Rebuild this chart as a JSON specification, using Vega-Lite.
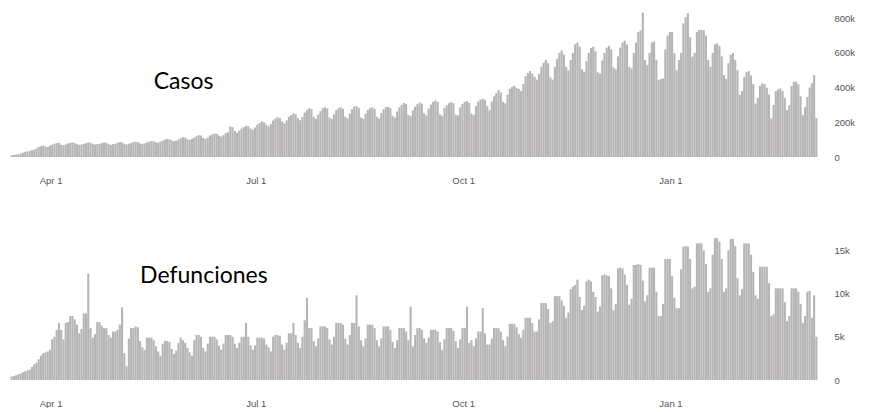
{
"$schema": "https://vega.github.io/schema/vega-lite/v6.json",
"background": "white",
"padding": {"left": 10, "top": 8, "right": 0, "bottom": 0},
"spacing": 46,
"config": {
  "view": {"stroke": null},
  "axis": {"grid": false, "domain": false, "ticks": false, "labelColor": "#555555", "labelFont": "Liberation Sans", "labelFontSize": 9.5, "title": null, "labelOverlap": false}
},
"data": {"values": [
{"date":"2020-03-14","cases":10000,"deaths":400},
{"date":"2020-03-15","cases":12000,"deaths":450},{"date":"2020-03-16","cases":14000,"deaths":550},{"date":"2020-03-17","cases":16000,"deaths":650},{"date":"2020-03-18","cases":20000,"deaths":750},{"date":"2020-03-19","cases":25000,"deaths":900},{"date":"2020-03-20","cases":30000,"deaths":1000},{"date":"2020-03-21","cases":32000,"deaths":1100},
{"date":"2020-03-22","cases":34000,"deaths":1200},{"date":"2020-03-23","cases":40000,"deaths":1500},{"date":"2020-03-24","cases":42000,"deaths":1800},{"date":"2020-03-25","cases":50000,"deaths":2000},{"date":"2020-03-26","cases":58000,"deaths":2400},{"date":"2020-03-27","cases":62000,"deaths":2800},{"date":"2020-03-28","cases":66000,"deaths":3100},
{"date":"2020-03-29","cases":60000,"deaths":3200},{"date":"2020-03-30","cases":58000,"deaths":3300},{"date":"2020-03-31","cases":66000,"deaths":3500},{"date":"2020-04-01","cases":72000,"deaths":4700},{"date":"2020-04-02","cases":76000,"deaths":5000},{"date":"2020-04-03","cases":80000,"deaths":5800},{"date":"2020-04-04","cases":82000,"deaths":6600},
{"date":"2020-04-05","cases":70000,"deaths":5800},{"date":"2020-04-06","cases":68000,"deaths":4700},{"date":"2020-04-07","cases":72000,"deaths":6600},{"date":"2020-04-08","cases":78000,"deaths":6700},{"date":"2020-04-09","cases":82000,"deaths":7400},{"date":"2020-04-10","cases":84000,"deaths":7400},{"date":"2020-04-11","cases":80000,"deaths":7000},
{"date":"2020-04-12","cases":74000,"deaths":6400},{"date":"2020-04-13","cases":70000,"deaths":5400},{"date":"2020-04-14","cases":72000,"deaths":5900},{"date":"2020-04-15","cases":76000,"deaths":7700},{"date":"2020-04-16","cases":80000,"deaths":7700},{"date":"2020-04-17","cases":84000,"deaths":12300},{"date":"2020-04-18","cases":82000,"deaths":6000},
{"date":"2020-04-19","cases":76000,"deaths":4900},{"date":"2020-04-20","cases":72000,"deaths":5300},{"date":"2020-04-21","cases":74000,"deaths":6700},{"date":"2020-04-22","cases":76000,"deaths":6700},{"date":"2020-04-23","cases":80000,"deaths":6300},{"date":"2020-04-24","cases":84000,"deaths":6000},{"date":"2020-04-25","cases":82000,"deaths":6000},
{"date":"2020-04-26","cases":74000,"deaths":5200},{"date":"2020-04-27","cases":70000,"deaths":4900},{"date":"2020-04-28","cases":74000,"deaths":5600},{"date":"2020-04-29","cases":76000,"deaths":5600},{"date":"2020-04-30","cases":82000,"deaths":5800},{"date":"2020-05-01","cases":86000,"deaths":6400},{"date":"2020-05-02","cases":84000,"deaths":8400},
{"date":"2020-05-03","cases":76000,"deaths":3100},{"date":"2020-05-04","cases":72000,"deaths":1600},{"date":"2020-05-05","cases":76000,"deaths":4800},{"date":"2020-05-06","cases":80000,"deaths":6000},{"date":"2020-05-07","cases":86000,"deaths":6000},{"date":"2020-05-08","cases":88000,"deaths":6200},{"date":"2020-05-09","cases":86000,"deaths":6100},
{"date":"2020-05-10","cases":78000,"deaths":4500},{"date":"2020-05-11","cases":74000,"deaths":3800},{"date":"2020-05-12","cases":78000,"deaths":3500},{"date":"2020-05-13","cases":84000,"deaths":4900},{"date":"2020-05-14","cases":88000,"deaths":4900},{"date":"2020-05-15","cases":92000,"deaths":4900},{"date":"2020-05-16","cases":90000,"deaths":4600},
{"date":"2020-05-17","cases":84000,"deaths":3900},{"date":"2020-05-18","cases":82000,"deaths":3300},{"date":"2020-05-19","cases":88000,"deaths":2800},{"date":"2020-05-20","cases":94000,"deaths":4200},{"date":"2020-05-21","cases":100000,"deaths":4500},{"date":"2020-05-22","cases":104000,"deaths":4500},{"date":"2020-05-23","cases":102000,"deaths":4400},
{"date":"2020-05-24","cases":96000,"deaths":3600},{"date":"2020-05-25","cases":90000,"deaths":3000},{"date":"2020-05-26","cases":94000,"deaths":3400},{"date":"2020-05-27","cases":100000,"deaths":4300},{"date":"2020-05-28","cases":108000,"deaths":4900},{"date":"2020-05-29","cases":114000,"deaths":4600},{"date":"2020-05-30","cases":112000,"deaths":4300},
{"date":"2020-05-31","cases":102000,"deaths":3700},{"date":"2020-06-01","cases":98000,"deaths":3200},{"date":"2020-06-02","cases":104000,"deaths":2800},{"date":"2020-06-03","cases":112000,"deaths":4600},{"date":"2020-06-04","cases":120000,"deaths":5200},{"date":"2020-06-05","cases":126000,"deaths":5200},{"date":"2020-06-06","cases":124000,"deaths":5000},
{"date":"2020-06-07","cases":110000,"deaths":3700},{"date":"2020-06-08","cases":104000,"deaths":3300},{"date":"2020-06-09","cases":112000,"deaths":4200},{"date":"2020-06-10","cases":124000,"deaths":5000},{"date":"2020-06-11","cases":130000,"deaths":5000},{"date":"2020-06-12","cases":136000,"deaths":5000},{"date":"2020-06-13","cases":134000,"deaths":4700},
{"date":"2020-06-14","cases":124000,"deaths":4000},{"date":"2020-06-15","cases":118000,"deaths":3500},{"date":"2020-06-16","cases":126000,"deaths":4200},{"date":"2020-06-17","cases":138000,"deaths":5200},{"date":"2020-06-18","cases":142000,"deaths":5200},{"date":"2020-06-19","cases":176000,"deaths":5200},{"date":"2020-06-20","cases":172000,"deaths":5000},
{"date":"2020-06-21","cases":150000,"deaths":4200},{"date":"2020-06-22","cases":140000,"deaths":3700},{"date":"2020-06-23","cases":152000,"deaths":4300},{"date":"2020-06-24","cases":164000,"deaths":5000},{"date":"2020-06-25","cases":172000,"deaths":5000},{"date":"2020-06-26","cases":180000,"deaths":6600},{"date":"2020-06-27","cases":178000,"deaths":5000},
{"date":"2020-06-28","cases":164000,"deaths":4000},{"date":"2020-06-29","cases":158000,"deaths":3500},{"date":"2020-06-30","cases":170000,"deaths":4000},{"date":"2020-07-01","cases":186000,"deaths":4900},{"date":"2020-07-02","cases":196000,"deaths":4900},{"date":"2020-07-03","cases":206000,"deaths":4900},{"date":"2020-07-04","cases":200000,"deaths":4800},
{"date":"2020-07-05","cases":186000,"deaths":4100},{"date":"2020-07-06","cases":176000,"deaths":3800},{"date":"2020-07-07","cases":190000,"deaths":3300},{"date":"2020-07-08","cases":210000,"deaths":5000},{"date":"2020-07-09","cases":222000,"deaths":5200},{"date":"2020-07-10","cases":230000,"deaths":5200},{"date":"2020-07-11","cases":224000,"deaths":5100},
{"date":"2020-07-12","cases":206000,"deaths":4100},{"date":"2020-07-13","cases":194000,"deaths":3500},{"date":"2020-07-14","cases":212000,"deaths":4300},{"date":"2020-07-15","cases":232000,"deaths":5400},{"date":"2020-07-16","cases":242000,"deaths":5400},{"date":"2020-07-17","cases":252000,"deaths":6600},{"date":"2020-07-18","cases":246000,"deaths":5200},
{"date":"2020-07-19","cases":224000,"deaths":4300},{"date":"2020-07-20","cases":212000,"deaths":3700},{"date":"2020-07-21","cases":230000,"deaths":5000},{"date":"2020-07-22","cases":256000,"deaths":6900},{"date":"2020-07-23","cases":270000,"deaths":9500},{"date":"2020-07-24","cases":282000,"deaths":6000},{"date":"2020-07-25","cases":276000,"deaths":6000},
{"date":"2020-07-26","cases":232000,"deaths":4500},{"date":"2020-07-27","cases":220000,"deaths":3900},{"date":"2020-07-28","cases":244000,"deaths":4800},{"date":"2020-07-29","cases":264000,"deaths":6200},{"date":"2020-07-30","cases":282000,"deaths":6200},{"date":"2020-07-31","cases":286000,"deaths":6200},{"date":"2020-08-01","cases":280000,"deaths":6000},
{"date":"2020-08-02","cases":228000,"deaths":4700},{"date":"2020-08-03","cases":220000,"deaths":4100},{"date":"2020-08-04","cases":246000,"deaths":5000},{"date":"2020-08-05","cases":270000,"deaths":6600},{"date":"2020-08-06","cases":282000,"deaths":6600},{"date":"2020-08-07","cases":286000,"deaths":6600},{"date":"2020-08-08","cases":278000,"deaths":6400},
{"date":"2020-08-09","cases":232000,"deaths":4800},{"date":"2020-08-10","cases":222000,"deaths":4100},{"date":"2020-08-11","cases":250000,"deaths":5200},{"date":"2020-08-12","cases":276000,"deaths":6600},{"date":"2020-08-13","cases":290000,"deaths":6600},{"date":"2020-08-14","cases":294000,"deaths":9800},{"date":"2020-08-15","cases":284000,"deaths":6200},
{"date":"2020-08-16","cases":228000,"deaths":4600},{"date":"2020-08-17","cases":220000,"deaths":3900},{"date":"2020-08-18","cases":250000,"deaths":4800},{"date":"2020-08-19","cases":272000,"deaths":6400},{"date":"2020-08-20","cases":282000,"deaths":6400},{"date":"2020-08-21","cases":286000,"deaths":6400},{"date":"2020-08-22","cases":278000,"deaths":6000},
{"date":"2020-08-23","cases":232000,"deaths":4600},{"date":"2020-08-24","cases":222000,"deaths":3900},{"date":"2020-08-25","cases":254000,"deaths":4800},{"date":"2020-08-26","cases":276000,"deaths":6200},{"date":"2020-08-27","cases":288000,"deaths":6200},{"date":"2020-08-28","cases":290000,"deaths":6200},{"date":"2020-08-29","cases":282000,"deaths":5800},
{"date":"2020-08-30","cases":238000,"deaths":4400},{"date":"2020-08-31","cases":228000,"deaths":3700},{"date":"2020-09-01","cases":262000,"deaths":4600},{"date":"2020-09-02","cases":286000,"deaths":6000},{"date":"2020-09-03","cases":300000,"deaths":6000},{"date":"2020-09-04","cases":312000,"deaths":6000},{"date":"2020-09-05","cases":306000,"deaths":5600},
{"date":"2020-09-06","cases":242000,"deaths":4600},{"date":"2020-09-07","cases":236000,"deaths":8500},{"date":"2020-09-08","cases":268000,"deaths":3900},{"date":"2020-09-09","cases":290000,"deaths":5200},{"date":"2020-09-10","cases":304000,"deaths":6000},{"date":"2020-09-11","cases":314000,"deaths":6000},{"date":"2020-09-12","cases":308000,"deaths":5800},
{"date":"2020-09-13","cases":252000,"deaths":4800},{"date":"2020-09-14","cases":240000,"deaths":4300},{"date":"2020-09-15","cases":280000,"deaths":4900},{"date":"2020-09-16","cases":302000,"deaths":5800},{"date":"2020-09-17","cases":318000,"deaths":5800},{"date":"2020-09-18","cases":326000,"deaths":5800},{"date":"2020-09-19","cases":318000,"deaths":5600},
{"date":"2020-09-20","cases":246000,"deaths":4400},{"date":"2020-09-21","cases":238000,"deaths":3500},{"date":"2020-09-22","cases":282000,"deaths":4700},{"date":"2020-09-23","cases":298000,"deaths":6000},{"date":"2020-09-24","cases":310000,"deaths":6000},{"date":"2020-09-25","cases":316000,"deaths":6000},{"date":"2020-09-26","cases":310000,"deaths":5700},
{"date":"2020-09-27","cases":244000,"deaths":4500},{"date":"2020-09-28","cases":240000,"deaths":3700},{"date":"2020-09-29","cases":286000,"deaths":4700},{"date":"2020-09-30","cases":306000,"deaths":6000},{"date":"2020-10-01","cases":318000,"deaths":6000},{"date":"2020-10-02","cases":322000,"deaths":8500},{"date":"2020-10-03","cases":312000,"deaths":4300},
{"date":"2020-10-04","cases":250000,"deaths":4600},{"date":"2020-10-05","cases":244000,"deaths":3900},{"date":"2020-10-06","cases":294000,"deaths":4800},{"date":"2020-10-07","cases":320000,"deaths":5600},{"date":"2020-10-08","cases":330000,"deaths":5600},{"date":"2020-10-09","cases":336000,"deaths":8300},{"date":"2020-10-10","cases":330000,"deaths":5400},
{"date":"2020-10-11","cases":292000,"deaths":4100},{"date":"2020-10-12","cases":270000,"deaths":4100},{"date":"2020-10-13","cases":320000,"deaths":4800},{"date":"2020-10-14","cases":350000,"deaths":6000},{"date":"2020-10-15","cases":368000,"deaths":6000},{"date":"2020-10-16","cases":386000,"deaths":6000},{"date":"2020-10-17","cases":372000,"deaths":5600},
{"date":"2020-10-18","cases":318000,"deaths":4600},{"date":"2020-10-19","cases":310000,"deaths":3900},{"date":"2020-10-20","cases":360000,"deaths":5000},{"date":"2020-10-21","cases":394000,"deaths":6500},{"date":"2020-10-22","cases":404000,"deaths":6500},{"date":"2020-10-23","cases":410000,"deaths":6500},{"date":"2020-10-24","cases":398000,"deaths":6100},
{"date":"2020-10-25","cases":392000,"deaths":5300},{"date":"2020-10-26","cases":380000,"deaths":4900},{"date":"2020-10-27","cases":420000,"deaths":5800},{"date":"2020-10-28","cases":466000,"deaths":7200},{"date":"2020-10-29","cases":484000,"deaths":7200},{"date":"2020-10-30","cases":496000,"deaths":7200},{"date":"2020-10-31","cases":480000,"deaths":6600},
{"date":"2020-11-01","cases":462000,"deaths":5600},{"date":"2020-11-02","cases":446000,"deaths":5600},{"date":"2020-11-03","cases":478000,"deaths":7000},{"date":"2020-11-04","cases":520000,"deaths":8900},{"date":"2020-11-05","cases":544000,"deaths":8900},{"date":"2020-11-06","cases":560000,"deaths":8900},{"date":"2020-11-07","cases":540000,"deaths":8200},
{"date":"2020-11-08","cases":458000,"deaths":6600},{"date":"2020-11-09","cases":446000,"deaths":6800},{"date":"2020-11-10","cases":520000,"deaths":9700},{"date":"2020-11-11","cases":566000,"deaths":9700},{"date":"2020-11-12","cases":600000,"deaths":9700},{"date":"2020-11-13","cases":614000,"deaths":9200},{"date":"2020-11-14","cases":590000,"deaths":8600},
{"date":"2020-11-15","cases":520000,"deaths":7200},{"date":"2020-11-16","cases":500000,"deaths":7800},{"date":"2020-11-17","cases":560000,"deaths":10500},{"date":"2020-11-18","cases":600000,"deaths":10800},{"date":"2020-11-19","cases":650000,"deaths":11000},{"date":"2020-11-20","cases":660000,"deaths":11600},{"date":"2020-11-21","cases":636000,"deaths":9600},
{"date":"2020-11-22","cases":506000,"deaths":8100},{"date":"2020-11-23","cases":492000,"deaths":8600},{"date":"2020-11-24","cases":552000,"deaths":11400},{"date":"2020-11-25","cases":600000,"deaths":11600},{"date":"2020-11-26","cases":628000,"deaths":11400},{"date":"2020-11-27","cases":636000,"deaths":10200},{"date":"2020-11-28","cases":610000,"deaths":9600},
{"date":"2020-11-29","cases":488000,"deaths":7900},{"date":"2020-11-30","cases":480000,"deaths":8500},{"date":"2020-12-01","cases":556000,"deaths":12100},{"date":"2020-12-02","cases":600000,"deaths":12200},{"date":"2020-12-03","cases":630000,"deaths":12100},{"date":"2020-12-04","cases":640000,"deaths":12000},{"date":"2020-12-05","cases":620000,"deaths":10600},
{"date":"2020-12-06","cases":516000,"deaths":8100},{"date":"2020-12-07","cases":506000,"deaths":8800},{"date":"2020-12-08","cases":580000,"deaths":12900},{"date":"2020-12-09","cases":630000,"deaths":13000},{"date":"2020-12-10","cases":660000,"deaths":12900},{"date":"2020-12-11","cases":670000,"deaths":12200},{"date":"2020-12-12","cases":648000,"deaths":11000},
{"date":"2020-12-13","cases":520000,"deaths":8700},{"date":"2020-12-14","cases":510000,"deaths":9400},{"date":"2020-12-15","cases":600000,"deaths":13300},{"date":"2020-12-16","cases":660000,"deaths":13300},{"date":"2020-12-17","cases":720000,"deaths":13400},{"date":"2020-12-18","cases":730000,"deaths":13300},{"date":"2020-12-19","cases":833000,"deaths":11500},
{"date":"2020-12-20","cases":560000,"deaths":9100},{"date":"2020-12-21","cases":530000,"deaths":9800},{"date":"2020-12-22","cases":600000,"deaths":13000},{"date":"2020-12-23","cases":660000,"deaths":13000},{"date":"2020-12-24","cases":665000,"deaths":13000},{"date":"2020-12-25","cases":560000,"deaths":10200},{"date":"2020-12-26","cases":443000,"deaths":7400},
{"date":"2020-12-27","cases":450000,"deaths":7400},{"date":"2020-12-28","cases":453000,"deaths":8800},{"date":"2020-12-29","cases":620000,"deaths":14000},{"date":"2020-12-30","cases":700000,"deaths":14000},{"date":"2020-12-31","cases":720000,"deaths":14000},{"date":"2021-01-01","cases":720000,"deaths":12000},{"date":"2021-01-02","cases":598000,"deaths":9500},
{"date":"2021-01-03","cases":500000,"deaths":8300},{"date":"2021-01-04","cases":560000,"deaths":8300},{"date":"2021-01-05","cases":600000,"deaths":12800},{"date":"2021-01-06","cases":770000,"deaths":15400},{"date":"2021-01-07","cases":806000,"deaths":15500},{"date":"2021-01-08","cases":829000,"deaths":15400},{"date":"2021-01-09","cases":690000,"deaths":14000},
{"date":"2021-01-10","cases":578000,"deaths":10600},{"date":"2021-01-11","cases":600000,"deaths":10800},{"date":"2021-01-12","cases":720000,"deaths":15800},{"date":"2021-01-13","cases":733000,"deaths":15800},{"date":"2021-01-14","cases":733000,"deaths":15800},{"date":"2021-01-15","cases":731000,"deaths":15000},{"date":"2021-01-16","cases":700000,"deaths":13400},
{"date":"2021-01-17","cases":560000,"deaths":10200},{"date":"2021-01-18","cases":520000,"deaths":10600},{"date":"2021-01-19","cases":600000,"deaths":14500},{"date":"2021-01-20","cases":650000,"deaths":16400},{"date":"2021-01-21","cases":655000,"deaths":16400},{"date":"2021-01-22","cases":640000,"deaths":16000},{"date":"2021-01-23","cases":580000,"deaths":14000},
{"date":"2021-01-24","cases":472000,"deaths":10200},{"date":"2021-01-25","cases":450000,"deaths":10600},{"date":"2021-01-26","cases":540000,"deaths":15000},{"date":"2021-01-27","cases":590000,"deaths":16300},{"date":"2021-01-28","cases":600000,"deaths":16300},{"date":"2021-01-29","cases":560000,"deaths":15500},{"date":"2021-01-30","cases":500000,"deaths":11800},
{"date":"2021-01-31","cases":357000,"deaths":9800},{"date":"2021-02-01","cases":380000,"deaths":10500},{"date":"2021-02-02","cases":460000,"deaths":15800},{"date":"2021-02-03","cases":490000,"deaths":15800},{"date":"2021-02-04","cases":495000,"deaths":15800},{"date":"2021-02-05","cases":470000,"deaths":14500},{"date":"2021-02-06","cases":420000,"deaths":12500},
{"date":"2021-02-07","cases":308000,"deaths":9800},{"date":"2021-02-08","cases":340000,"deaths":9400},{"date":"2021-02-09","cases":410000,"deaths":13100},{"date":"2021-02-10","cases":424000,"deaths":13100},{"date":"2021-02-11","cases":420000,"deaths":13100},{"date":"2021-02-12","cases":400000,"deaths":13100},{"date":"2021-02-13","cases":360000,"deaths":11200},
{"date":"2021-02-14","cases":222000,"deaths":7400},{"date":"2021-02-15","cases":300000,"deaths":7600},{"date":"2021-02-16","cases":380000,"deaths":10600},{"date":"2021-02-17","cases":390000,"deaths":10600},{"date":"2021-02-18","cases":395000,"deaths":10600},{"date":"2021-02-19","cases":380000,"deaths":10600},{"date":"2021-02-20","cases":340000,"deaths":9000},
{"date":"2021-02-21","cases":270000,"deaths":6800},{"date":"2021-02-22","cases":300000,"deaths":7400},{"date":"2021-02-23","cases":410000,"deaths":10600},{"date":"2021-02-24","cases":434000,"deaths":10600},{"date":"2021-02-25","cases":434000,"deaths":10600},{"date":"2021-02-26","cases":420000,"deaths":10200},{"date":"2021-02-27","cases":350000,"deaths":8800},
{"date":"2021-02-28","cases":241000,"deaths":6600},{"date":"2021-03-01","cases":288000,"deaths":7400},{"date":"2021-03-02","cases":345000,"deaths":10200},{"date":"2021-03-03","cases":400000,"deaths":10300},{"date":"2021-03-04","cases":425000,"deaths":7200},{"date":"2021-03-05","cases":472000,"deaths":9800},{"date":"2021-03-06","cases":224000,"deaths":5000}
]},
"vconcat": [
  {
    "width": 807, "height": 149,
    "resolve": {"scale": {"y": "independent"}, "axis": {"y": "independent"}},
    "layer": [
      {
        "mark": {"type": "bar", "color": "#b6b4b5", "binSpacing": 0.15},
        "encoding": {
          "x": {"field": "date", "timeUnit": "utcyearmonthdate", "type": "temporal",
                "scale": {"domain": [{"year": 2020, "month": 3, "date": 14, "utc": true}, {"year": 2021, "month": 3, "date": 7, "utc": true}]},
                "axis": {"values": [{"year": 2020, "month": 4, "date": 1, "utc": true}, {"year": 2020, "month": 7, "date": 1, "utc": true}, {"year": 2020, "month": 10, "date": 1, "utc": true}, {"year": 2021, "month": 1, "date": 1, "utc": true}],
                         "format": "%b %-d", "labelPadding": 18, "labelFlush": false, "labelOverlap": false}},
          "y": {"field": "cases", "type": "quantitative",
                "scale": {"domain": [0, 859000], "nice": false},
                "axis": {"orient": "right", "values": [0, 200000, 400000, 600000, 800000], "labelExpr": "datum.value == 0 ? '0' : (datum.value / 1000) + 'k'", "labelPadding": 17, "labelOverlap": false}}
        }
      },
      {
        "data": {"values": [{"label": "Casos"}]},
        "mark": {"type": "text", "font": "Lato", "fontSize": 23, "align": "center", "baseline": "alphabetic", "color": "#000000"},
        "encoding": {
          "x": {"datum": {"year": 2020, "month": 5, "date": 30, "utc": true}, "type": "temporal"},
          "y": {"datum": 0.456, "type": "quantitative", "scale": {"domain": [0, 1], "nice": false}, "axis": null},
          "text": {"field": "label"}
        }
      }
    ]
  },
  {
    "width": 807, "height": 149,
    "resolve": {"scale": {"y": "independent"}, "axis": {"y": "independent"}},
    "layer": [
      {
        "mark": {"type": "bar", "color": "#b6b4b5", "binSpacing": 0.15},
        "encoding": {
          "x": {"field": "date", "timeUnit": "utcyearmonthdate", "type": "temporal",
                "scale": {"domain": [{"year": 2020, "month": 3, "date": 14, "utc": true}, {"year": 2021, "month": 3, "date": 7, "utc": true}]},
                "axis": {"values": [{"year": 2020, "month": 4, "date": 1, "utc": true}, {"year": 2020, "month": 7, "date": 1, "utc": true}, {"year": 2020, "month": 10, "date": 1, "utc": true}, {"year": 2021, "month": 1, "date": 1, "utc": true}],
                         "format": "%b %-d", "labelPadding": 18, "labelFlush": false, "labelOverlap": false}},
          "y": {"field": "deaths", "type": "quantitative",
                "scale": {"domain": [0, 17230], "nice": false},
                "axis": {"orient": "right", "values": [0, 5000, 10000, 15000], "labelExpr": "datum.value == 0 ? '0' : (datum.value / 1000) + 'k'", "labelPadding": 17, "labelOverlap": false}}
        }
      },
      {
        "data": {"values": [{"label": "Defunciones"}]},
        "mark": {"type": "text", "font": "Lato", "fontSize": 23, "align": "center", "baseline": "alphabetic", "color": "#000000"},
        "encoding": {
          "x": {"datum": {"year": 2020, "month": 6, "date": 8, "utc": true}, "type": "temporal"},
          "y": {"datum": 0.651, "type": "quantitative", "scale": {"domain": [0, 1], "nice": false}, "axis": null},
          "text": {"field": "label"}
        }
      }
    ]
  }
]
}
